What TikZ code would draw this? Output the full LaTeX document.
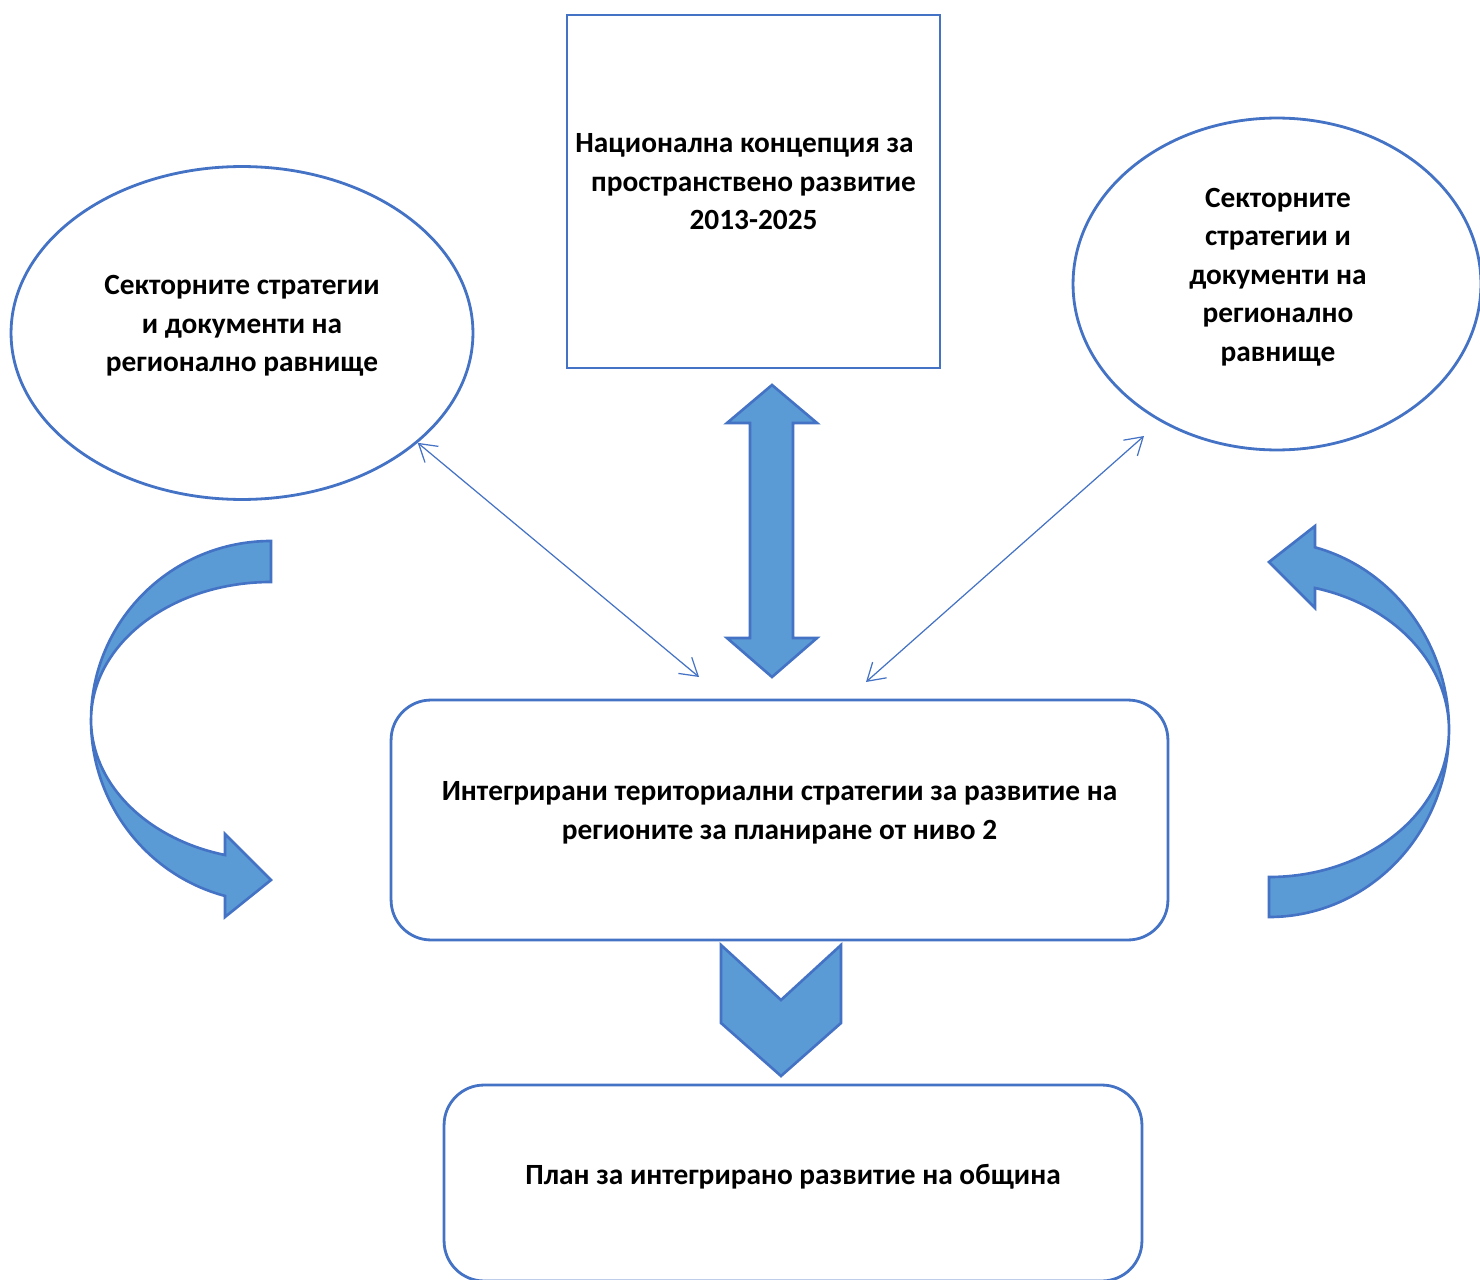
\documentclass[tikz,border=0pt]{standalone}
\usepackage{fontspec}
\setmainfont{Carlito}
\usetikzlibrary{shapes.geometric,arrows.meta}
\definecolor{lineblue}{HTML}{4472C4}
\definecolor{fillblue}{HTML}{5B9BD5}
\newcommand*{\BlockShape}[1]{% #1 = list of corner points
  \filldraw [blockarrow] plot coordinates {#1} -- cycle;
}

\begin{document}
\begin{tikzpicture}[x=0.02cm, y=-0.02cm,
    outline/.style={draw=lineblue, line width=1.6pt, inner sep=0pt},
    blockarrow/.style={fill=fillblue, draw=lineblue, line width=1.5pt},
    thinarrow/.style={draw=lineblue, line width=0.7pt,
      {Straight Barb[length=0.34cm, width=0.42cm]}-{Straight Barb[length=0.34cm, width=0.42cm]}},
    txt/.style={font=\bfseries\fontsize{16.7}{21.9}\selectfont, align=center, inner sep=0pt}]
  \useasboundingbox (0,0) rectangle (1480,1280);

  % shapes
  \node [outline, rectangle, minimum width=7.46cm, minimum height=7.06cm] (concept) at (753.5,191.5) {};
  \node [outline, ellipse, minimum width=9.24cm, minimum height=6.66cm] (leftell) at (242,333) {};
  \node [outline, ellipse, minimum width=8.16cm, minimum height=6.64cm] (rightell) at (1277,284) {};
  \node [outline, rectangle, rounded corners=0.8cm, minimum width=15.54cm, minimum height=4.8cm] (regbox) at (779.5,820) {};
  \node [outline, rectangle, rounded corners=0.8cm, minimum width=13.96cm, minimum height=3.92cm] (planbox) at (793,1183) {};

  % texts
  \node [txt] (concepttext) at (753.5,182) {Национална концепция за\hspace*{0.36cm}\\пространствено развитие\\2013-2025};
  \node [txt] (lefttext) at (242,326) {Секторните стратегии\\и документи на\\регионално равнище};
  \node [txt] (righttext) at (1278,277) {Секторните\\стратегии и\\документи на\\регионално\\равнище};
  \node [txt] (regtext) at (779.5,813) {Интегрирани териториални стратегии за развитие на\\регионите за планиране от ниво 2};
  \node [txt] (plantext) at (793,1177) {План за интегрирано развитие на община};

  % thin arrows
  \coordinate (leftend) at (699,677);
  \coordinate (rightend) at (866,682);
  \coordinate (rightstart) at (1144,436);
  \draw [thinarrow] (leftell.-32) -- (leftend);
  \draw [thinarrow] (rightstart) -- (rightend);

  % block arrows
  \BlockShape{(772,385) (817,423) (793,423) (793,638) (817,638) (772,677) (727,638) (750,638) (750,423) (727,423)}
  \BlockShape{(721,945) (781,1000) (841,945) (841,1023) (781,1076) (721,1023)}

  % curved arrows
  \filldraw [blockarrow] (271,541) arc[start angle=90, end angle=180, x radius=3.6cm, y radius=3.58cm]
    arc[start angle=180, end angle=90, x radius=3.6cm, y radius=2.76cm] -- cycle;
  \filldraw [blockarrow] (91,720) arc[start angle=180, end angle=255.2, x radius=3.6cm, y radius=3.64cm]
    -- (225,917) -- (271,880) -- (225,834) -- (225,855)
    arc[start angle=255.2, end angle=180, x radius=3.6cm, y radius=2.8cm] -- cycle;
  \filldraw [blockarrow] (1269,917) arc[start angle=270, end angle=360, x radius=3.6cm, y radius=3.74cm]
    arc[start angle=0, end angle=-90, x radius=3.6cm, y radius=2.94cm] -- cycle;
  \filldraw [blockarrow] (1449,730) arc[start angle=0, end angle=75.2, x radius=3.6cm, y radius=3.78cm]
    -- (1315,526) -- (1269,562) -- (1315,608) -- (1315,588)
    arc[start angle=75.2, end angle=0, x radius=3.6cm, y radius=2.94cm] -- cycle;
\end{tikzpicture}
\end{document}
